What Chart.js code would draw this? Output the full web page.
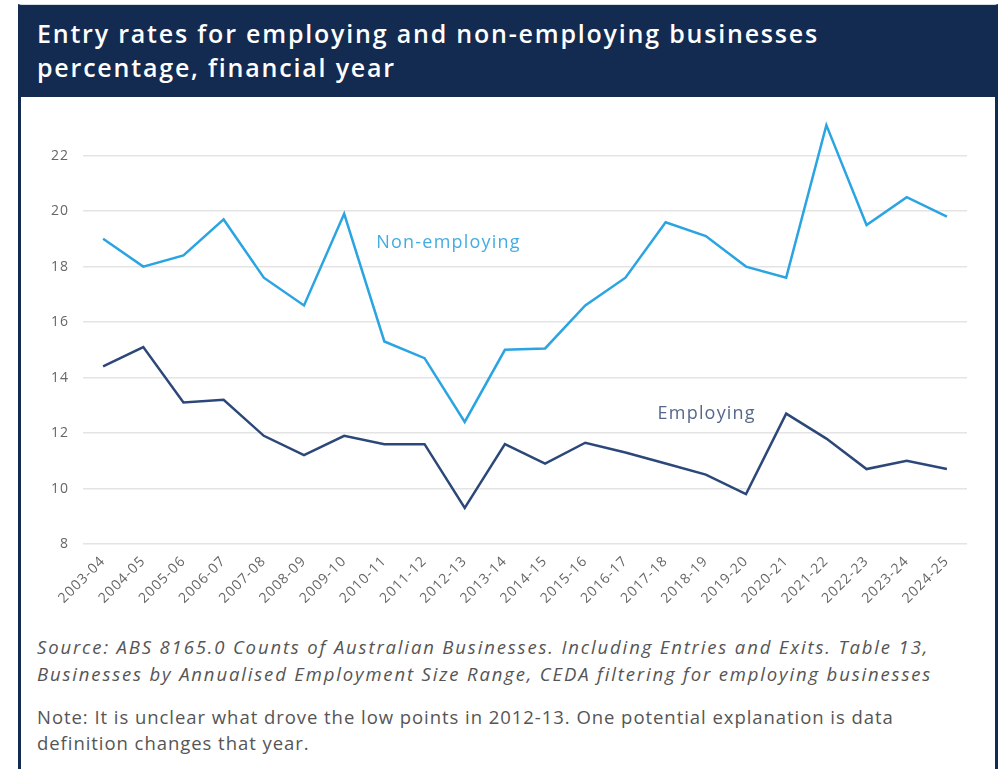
<!DOCTYPE html>
<html>
<head>
<meta charset="utf-8">
<script src="https://cdn.jsdelivr.net/npm/chart.js@4.4.1/dist/chart.umd.min.js"></script>
<style>
    body { margin: 0; background: #fff; font-family: "Open Sans", sans-serif; }
    #panel {
        position: absolute; left: 18px; top: 4px; width: 974px; height: 770px;
        border-left: 3px solid #132b50; border-right: 3px solid #132b50;
        border-top: 1px solid #d8dde5;
    }
    #header {
        position: absolute; left: 0; top: 0; right: 0; height: 92px;
        background: #132b50; color: #fff;
        font-size: 25px; font-weight: 600; line-height: 34px; letter-spacing: 1.8px;
        padding: 11px 0 0 16px; box-sizing: border-box;
    }
    #chartBox { position: absolute; left: 0; top: 92px; width: 974px; height: 519px; }
    .source {
        position: absolute; left: 16px; top: 628px; width: 960px;
        font-style: italic; color: #555; font-size: 18.5px; line-height: 27px; letter-spacing: 1.85px;
    }
    .note {
        position: absolute; left: 16px; top: 699px; width: 960px;
        color: #555; font-size: 18.5px; line-height: 26px; letter-spacing: 0.95px;
    }
</style>
</head>
<body>
<div id="panel">
    <div id="header">Entry rates for employing and non-employing businesses<br>percentage, financial year</div>
    <div id="chartBox"><canvas id="entryChart"></canvas></div>
    <div class="source">Source: ABS 8165.0 Counts of Australian Businesses. Including Entries and Exits. Table 13,<br>Businesses by Annualised Employment Size Range, CEDA filtering for employing businesses</div>
    <div class="note">Note: It is unclear what drove the low points in 2012-13. One potential explanation is data<br>definition changes that year.</div>
</div>

<script>
    // Financial years
    const years = [
        "2003-04", "2004-05", "2005-06", "2006-07", "2007-08", "2008-09", "2009-10",
        "2010-11", "2011-12", "2012-13", "2013-14", "2014-15", "2015-16", "2016-17",
        "2017-18", "2018-19", "2019-20", "2020-21", "2021-22", "2022-23", "2023-24", "2024-25"
    ];

    // Entry rates (%)
    const nonEmploying = [
        19.0, 18.0, 18.4, 19.7, 17.6, 16.6, 19.9, 15.3, 14.7, 12.4, 15.0,
        15.05, 16.6, 17.6, 19.6, 19.1, 18.0, 17.6, 23.1, 19.5, 20.5, 19.8
    ];
    const employing = [
        14.4, 15.1, 13.1, 13.2, 11.9, 11.2, 11.9, 11.6, 11.6, 9.3, 11.6,
        10.9, 11.65, 11.3, 10.9, 10.5, 9.8, 12.7, 11.8, 10.7, 11.0, 10.7
    ];

    const NON_EMP_COLOR = "#2ba4e2";
    const EMP_COLOR = "#2c4878";

    // wider letter spacing on all canvas text
    const spacing = {
        id: "spacing",
        beforeLayout(chart) { chart.ctx.letterSpacing = "1px"; },
        beforeDraw(chart) { chart.ctx.letterSpacing = "1px"; },
    };

    // Series names written straight onto the plot instead of a legend
    const seriesLabels = {
        id: "seriesLabels",
        afterDatasetsDraw(chart) {
            const { ctx, scales } = chart;
            ctx.save();
            ctx.font = "18px 'Open Sans', sans-serif";
            ctx.letterSpacing = "1.2px";
            ctx.textBaseline = "middle";
            ctx.textAlign = "left";
            ctx.fillStyle = "#45ace2";
            ctx.fillText("Non-employing", scales.x.getPixelForValue(6.8), scales.y.getPixelForValue(18.87));
            ctx.fillStyle = "#56678a";
            ctx.fillText("Employing", scales.x.getPixelForValue(13.8), scales.y.getPixelForValue(12.68));
            ctx.restore();
        }
    };

    const ctx = document.getElementById("entryChart").getContext("2d");
    new Chart(ctx, {
        type: "line",
        data: {
            labels: years,
            datasets: [
                {
                    label: "Non-employing",
                    data: nonEmploying,
                    borderColor: NON_EMP_COLOR,
                    borderWidth: 2.5,
                    pointRadius: 0,
                    tension: 0,
                },
                {
                    label: "Employing",
                    data: employing,
                    borderColor: EMP_COLOR,
                    borderWidth: 2.5,
                    pointRadius: 0,
                    tension: 0,
                },
            ],
        },
        options: {
            responsive: true,
            maintainAspectRatio: false,
            animation: false,
            layout: { padding: { left: 0, right: 28, top: 17, bottom: 0 } },
            plugins: {
                legend: { display: false },
                tooltip: { enabled: false },
            },
            scales: {
                x: {
                    offset: true,
                    afterFit(scale) {
                        scale.height = 72;
                        scale.paddingLeft = 0;
                        scale.paddingRight = 0;
                    },
                    grid: { display: false, drawTicks: false },
                    border: { display: false },
                    ticks: {
                        color: "#666",
                        font: { family: "'Open Sans', sans-serif", size: 14 },
                        minRotation: 45,
                        maxRotation: 45,
                        autoSkip: false,
                        padding: 9,
                    },
                },
                y: {
                    min: 8,
                    max: 23.5,
                    afterFit(scale) {
                        scale.width = 62;
                        scale.paddingTop = 0;
                        scale.paddingBottom = 0;
                    },
                    grid: { color: "#e4e4e4", lineWidth: 1.5, drawTicks: false },
                    border: { display: false },
                    ticks: {
                        stepSize: 2,
                        includeBounds: false,
                        color: "#666",
                        font: { family: "'Open Sans', sans-serif", size: 14 },
                        padding: 14,
                    },
                },
            },
        },
        plugins: [spacing, seriesLabels],
    });
</script>
</body>
</html>
